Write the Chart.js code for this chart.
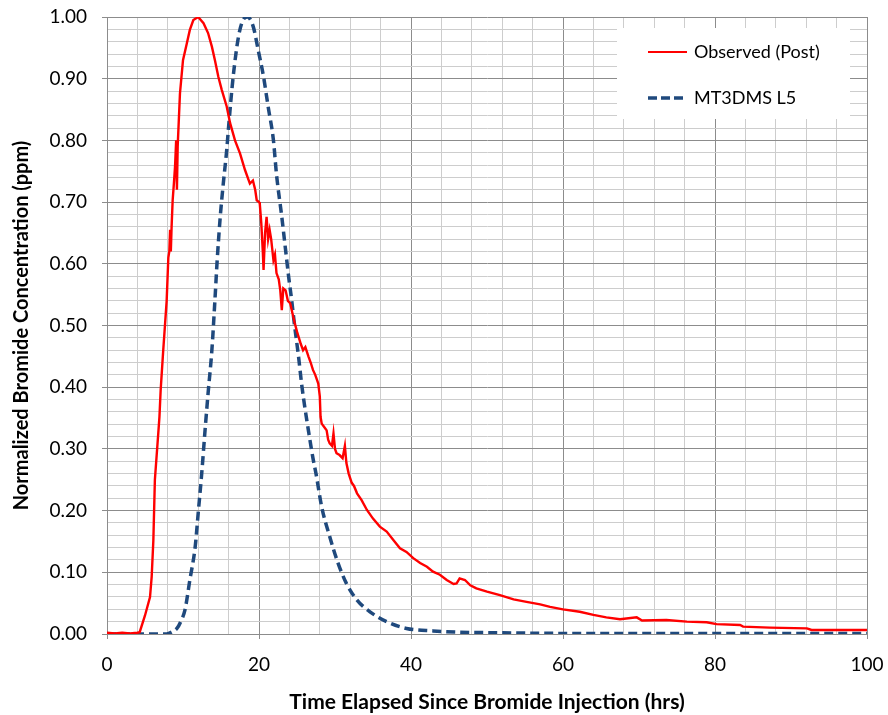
<!DOCTYPE html>
<html>
<head>
<meta charset="utf-8">
<script src="https://cdn.jsdelivr.net/npm/chart.js@4.4.1/dist/chart.umd.min.js"></script>
<style>
  html, body { margin: 0; padding: 0; background: #fff; }
  #wrap { width: 888px; height: 715px; }
</style>
</head>
<body>
<div id="wrap"><canvas id="chart" width="888" height="715"></canvas></div>
<script>
// Observed bromide breakthrough (post)
const obsTime = [
  0, 1, 2, 3, 4.0, 4.3, 5.0, 5.66, 5.88, 6.1, 6.3, 6.75, 6.9, 7.06, 7.4, 7.85, 8.07, 8.2, 8.3, 8.4, 8.5,
  8.64, 8.8, 8.95, 9.1, 9.2, 9.3, 9.6, 10.0, 10.5, 10.9, 11.36, 12.0, 12.7, 13.3, 13.8, 14.2, 14.65,
  15.1, 15.75, 16.2, 16.84, 17.5, 18.16, 18.8, 19.2, 19.5, 19.7, 20.0, 20.1, 20.3, 20.5, 20.6, 20.8,
  21.0, 21.2, 21.4, 21.6, 21.9, 22.1, 22.3, 22.6, 22.8, 23.0, 23.2, 23.5, 23.8, 24.1, 24.4, 24.7,
  25.0, 25.2, 25.5, 25.8, 26.1, 26.5, 26.8, 27.1, 27.4, 27.8, 28.0, 28.1, 28.25, 28.6, 28.9, 29.1,
  29.3, 29.6, 29.8, 30.0, 30.2, 30.6, 31.0, 31.3, 31.5, 31.8, 32.2, 32.5, 32.9, 33.5, 34.2, 35.0,
  35.9, 36.8, 37.7, 38.55, 39.4, 40.3, 41.2, 42.1, 42.9, 43.8, 44.7, 45.6, 46.0, 46.4, 47.1, 47.8,
  48.6, 50.0, 51.7, 53.5, 55.2, 57.0, 58.3, 60.0, 62.2, 64.0, 65.7, 67.5, 69.7, 70.4, 73.6, 76.3,
  78.9, 80.2, 83.3, 83.7, 87.2, 92.1, 92.7, 100
];
const obsConc = [
  0.002, 0.001, 0.002, 0.001, 0.002, 0.003, 0.03, 0.06, 0.093, 0.152, 0.25, 0.326, 0.352, 0.395, 0.46, 0.54, 0.61, 0.62, 0.655, 0.62, 0.66,
  0.703, 0.73, 0.757, 0.80, 0.72, 0.79, 0.876, 0.93, 0.957, 0.979, 0.995, 1.0, 0.99, 0.974, 0.952, 0.93, 0.903,
  0.882, 0.855, 0.828, 0.80, 0.779, 0.752, 0.73, 0.735, 0.72, 0.703, 0.70, 0.698, 0.666, 0.62, 0.59, 0.65,
  0.676, 0.64, 0.655, 0.64, 0.606, 0.615, 0.585, 0.575, 0.557, 0.525, 0.56, 0.557, 0.54, 0.536, 0.52, 0.504,
  0.49, 0.482, 0.47, 0.46, 0.465, 0.45, 0.44, 0.428, 0.42, 0.406, 0.385, 0.352, 0.341, 0.335, 0.33, 0.315,
  0.309, 0.305, 0.325, 0.30, 0.293, 0.29, 0.285, 0.305, 0.277, 0.26, 0.245, 0.24, 0.228, 0.217, 0.201, 0.187,
  0.174, 0.166, 0.152, 0.139, 0.133, 0.123, 0.115, 0.109, 0.101, 0.096, 0.0875, 0.081, 0.082, 0.090, 0.0875, 0.079,
  0.074, 0.0686, 0.063, 0.056, 0.052, 0.048, 0.044, 0.040, 0.036, 0.031, 0.027, 0.024, 0.027, 0.022, 0.0227, 0.020,
  0.019, 0.016, 0.0146, 0.012, 0.0103, 0.0092, 0.0065, 0.0065
];

// MT3DMS L5 simulated curve
const modelTime = [
  0, 4, 7.85, 8.5, 9.2, 9.7, 10.26, 10.9, 11.6, 12.0, 12.46, 12.9, 13.3, 13.8, 14.2, 14.5, 14.9, 15.3,
  15.75, 16.0, 16.6, 17.3, 17.9, 18.5, 19.25, 19.9, 20.6, 21.2, 21.9, 22.3, 23.0, 23.4, 23.9, 24.3,
  24.7, 25.2, 25.6, 26.0, 26.5, 27.1, 27.5, 28.25, 29.3, 30.4, 31.5, 32.9, 34.6, 36.8, 39.4, 42.9,
  46.4, 51.7, 60, 80, 100
];
const modelConc = [
  0, 0, 0, 0.003, 0.009, 0.02, 0.039, 0.0875, 0.141, 0.196, 0.26, 0.33, 0.39, 0.46, 0.541, 0.606, 0.676, 0.73,
  0.784, 0.822, 0.903, 0.968, 0.995, 1.0, 0.984, 0.946, 0.903, 0.855, 0.80, 0.745, 0.676, 0.633, 0.579, 0.541,
  0.498, 0.45, 0.406, 0.37, 0.33, 0.285, 0.26, 0.206, 0.158, 0.115, 0.082, 0.055, 0.036, 0.02, 0.009, 0.005,
  0.003, 0.002, 0.001, 0.001, 0.001
];

const seriesNames = ['Observed (Post)', 'MT3DMS L5'];
const xTitle = 'Time Elapsed Since Bromide Injection (hrs)';
const yTitle = 'Normalized Bromide Concentration (ppm)';

const FONT = 'Lato, "Open Sans", sans-serif';
const RED = '#ff0000';
const BLUE = '#1f497d';
const MAJOR = '#8c8c8c';
const MINOR = '#cdcdcd';

function toPoints(xs, ys) {
  return xs.map((x, i) => ({ x: x, y: ys[i] }));
}

// draws the boxed legend inside the plot, top right
const insideLegend = {
  id: 'insideLegend',
  afterDatasetsDraw(chart) {
    const { ctx, chartArea } = chart;
    const bx = chartArea.right - 250, by = chartArea.top + 11;
    ctx.save();
    ctx.fillStyle = '#fff';
    ctx.fillRect(bx, by, 233, 91);
    const rows = [
      { y: by + 24, color: RED, width: 2.2, dash: [] },
      { y: by + 70, color: BLUE, width: 3.5, dash: [9, 4] }
    ];
    rows.forEach((r, i) => {
      ctx.beginPath();
      ctx.setLineDash(r.dash);
      ctx.strokeStyle = r.color;
      ctx.lineWidth = r.width;
      ctx.moveTo(bx + 31, r.y);
      ctx.lineTo(bx + 70, r.y);
      ctx.stroke();
      ctx.setLineDash([]);
      ctx.fillStyle = '#000';
      ctx.font = '18px ' + FONT;
      ctx.textBaseline = 'middle';
      ctx.fillText(seriesNames[i], bx + 77, r.y);
    });
    ctx.restore();
  }
};

new Chart(document.getElementById('chart'), {
  type: 'line',
  data: {
    datasets: [
      {
        label: seriesNames[0],
        data: toPoints(obsTime, obsConc),
        borderColor: RED,
        borderWidth: 2.4,
        pointRadius: 0,
        fill: false,
        tension: 0
      },
      {
        label: seriesNames[1],
        data: toPoints(modelTime, modelConc),
        borderColor: BLUE,
        borderWidth: 3.5,
        borderDash: [9, 5],
        pointRadius: 0,
        fill: false,
        cubicInterpolationMode: 'monotone'
      }
    ]
  },
  options: {
    responsive: false,
    animation: false,
    layout: { padding: { left: 0, top: 17, right: 21, bottom: 0 } },
    plugins: {
      legend: { display: false },
      tooltip: { enabled: false }
    },
    scales: {
      x: {
        type: 'linear',
        min: 0,
        max: 100,
        afterFit: s => { s.height = 81; s.paddingLeft = 0; s.paddingRight = 0; },
        border: { color: MAJOR, width: 1 },
        grid: {
          color: c => (Math.round(c.tick.value) % 20 === 0 ? MAJOR : MINOR),
          tickColor: c => (Math.round(c.tick.value) % 20 === 0 ? MAJOR : 'rgba(0,0,0,0)'),
          tickLength: 5
        },
        ticks: {
          stepSize: 4,
          autoSkip: false,
          maxRotation: 0,
          padding: 14,
          color: '#000',
          font: { family: FONT, size: 19 },
          callback: v => (Math.round(v) % 20 === 0 ? String(Math.round(v)) : '')
        },
        title: {
          display: true,
          text: xTitle,
          color: '#000',
          font: { family: FONT, size: 21, weight: 'bold' },
          padding: { top: 0, bottom: 0 }
        }
      },
      y: {
        min: 0,
        max: 1,
        afterFit: s => { s.width = 107; s.paddingTop = 0; s.paddingBottom = 0; },
        border: { color: MAJOR, width: 1 },
        grid: {
          color: c => (Math.round(c.tick.value * 100) % 10 === 0 ? MAJOR : MINOR),
          tickColor: c => (Math.round(c.tick.value * 100) % 10 === 0 ? MAJOR : 'rgba(0,0,0,0)'),
          tickLength: 5
        },
        ticks: {
          stepSize: 0.02,
          autoSkip: false,
          padding: 15,
          color: '#000',
          font: { family: FONT, size: 19 },
          callback: v => (Math.round(v * 100) % 10 === 0 ? v.toFixed(2) : '')
        },
        title: {
          display: true,
          text: yTitle,
          color: '#000',
          font: { family: FONT, size: 20, weight: 'bold' },
          padding: { top: 10, bottom: 0 }
        }
      }
    }
  },
  plugins: [insideLegend]
});
</script>
</body>
</html>
